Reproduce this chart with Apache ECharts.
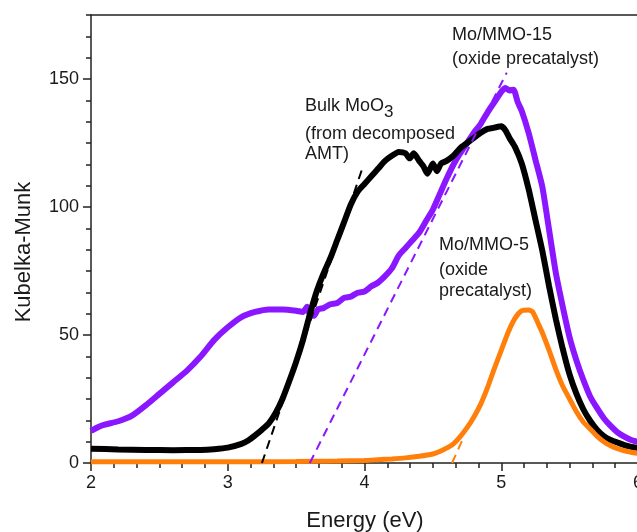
<!DOCTYPE html>
<html>
<head>
<meta charset="utf-8">
<script src="https://cdn.jsdelivr.net/npm/echarts@6/dist/echarts.min.js"></script>
<style>
html,body{margin:0;padding:0;background:#fff;}
#chart{width:637px;height:532px;}
</style>
</head>
<body>
<div id="chart"></div>
<script>
// ---- Data ----
const xTicks = [2, 3, 4, 5, 6];
const yTicks = [0, 50, 100, 150];

// Bulk MoO3 (from decomposed AMT)
const bulkX = [2.00,2.20,2.40,2.60,2.80,2.90,3.00,3.10,3.15,3.20,3.25,3.30,3.35,3.40,3.45,3.50,3.55,3.60,3.65,3.70,3.75,3.80,3.85,3.90,3.95,4.00,4.05,4.10,4.15,4.20,4.25,4.30,4.33,4.36,4.40,4.43,4.46,4.50,4.53,4.56,4.60,4.65,4.70,4.75,4.80,4.85,4.90,4.95,5.00,5.03,5.06,5.10,5.15,5.20,5.25,5.30,5.35,5.40,5.45,5.50,5.55,5.60,5.65,5.70,5.75,5.80,5.85,5.90,5.95,6.00];
const bulkY = [5.6,5.3,5.1,5.0,5.1,5.4,6.0,7.5,8.8,10.8,13.0,15.5,19.5,25,32,39.5,48,58,67,74,80,87,94,101,106,109,112,115,118,120,121.5,121,119,121,118,116,113,117,114,117,118,120,123,125,127,129,130.5,131,131.5,130,127,123.5,117,107,95,83,69,56,44.5,34.5,27,21,16.5,13,10.5,9,8,7,6.3,5.8];

// Mo/MMO-15 (oxide precatalyst)
const mmo15X = [2.00,2.05,2.10,2.20,2.30,2.40,2.50,2.60,2.70,2.80,2.90,3.00,3.10,3.20,3.30,3.40,3.50,3.55,3.58,3.60,3.63,3.66,3.70,3.75,3.80,3.85,3.90,3.95,4.00,4.05,4.10,4.15,4.20,4.25,4.30,4.35,4.40,4.45,4.50,4.55,4.60,4.65,4.70,4.75,4.80,4.85,4.90,4.95,5.00,5.03,5.06,5.09,5.12,5.15,5.20,5.25,5.30,5.35,5.40,5.45,5.50,5.55,5.60,5.65,5.70,5.75,5.80,5.85,5.90,5.95,6.00];
const mmo15Y = [12.5,14,15,16.3,18.5,22.5,27,31.5,36,41.5,48,53,57,59,60,60,59.5,59,61,58,57.5,60,60.5,62,62.5,64.5,65,66.5,67,69,70.5,73,76,81,84,87,90,94.5,99,105,111,116.5,121,125,129,132.5,137,141,145,146.5,145.5,145.8,141,137.5,129,118.5,108,91,74,61,49,40,32.5,26,21.5,17.5,14.5,12,10.3,9,8.2];

// Mo/MMO-5 (oxide precatalyst)
const mmo5X = [2.00,2.50,3.00,3.50,3.80,4.00,4.10,4.20,4.30,4.40,4.50,4.55,4.60,4.65,4.70,4.75,4.80,4.85,4.90,4.95,5.00,5.05,5.10,5.15,5.20,5.23,5.27,5.30,5.35,5.40,5.45,5.50,5.55,5.60,5.65,5.70,5.75,5.80,5.85,5.90,5.95,6.00];
const mmo5Y = [0.5,0.5,0.5,0.6,0.8,1.0,1.3,1.6,2.0,2.6,3.5,4.5,5.8,7.5,10.3,13.8,18,23,29.5,37,44,51,56.5,59.5,59.8,59,54.5,51,44,36.5,30,25,20,16,13.3,10.5,8.3,6.7,5.6,4.8,4.2,3.8];

// Tangent (band-edge) lines
const bulkTanX = [3.25, 3.99], bulkTanY = [0, 116];
const mmo15TanX = [3.60, 5.04], mmo15TanY = [0, 152.5];
const mmo5TanX = [4.64, 4.72], mmo5TanY = [0, 9.5];

const zip = (xs, ys) => xs.map((x, i) => [x, ys[i]]);

const FONT = "'Liberation Sans', Arial, Helvetica, sans-serif";
const TXT = '#1a1a1a';
const PURPLE = '#8a17ff';
const ORANGE = '#ff7f0a';
const BLACK = '#000000';

const chart = echarts.init(document.getElementById('chart'), null, {renderer: 'canvas'});

const axisLineStyle = {color: '#222', width: 1.5};

const option = {
  backgroundColor: '#fff',
  animation: false,
  grid: {left: 91, right: -1, top: 15, bottom: 69, containLabel: false, outerBoundsMode: 'none'},
  xAxis: [
    {
      type: 'value', min: 2, max: 6, interval: 1, position: 'bottom',
      axisLine: {show: true, onZero: false, lineStyle: axisLineStyle},
      axisTick: {show: true, length: 8, lineStyle: axisLineStyle},
      minorTick: {show: true, splitNumber: 6, length: 5, lineStyle: axisLineStyle},
      axisLabel: {fontSize: 18, color: TXT, fontFamily: FONT, margin: 11,
        customValues: xTicks},
      splitLine: {show: false}
    },
    {
      type: 'value', min: 2, max: 6, position: 'top',
      axisLine: {show: true, onZero: false, lineStyle: axisLineStyle},
      axisTick: {show: false}, axisLabel: {show: false}, splitLine: {show: false}
    }
  ],
  yAxis: [
    {
      type: 'value', min: 0, max: 175, interval: 50, position: 'left',
      axisLine: {show: true, onZero: false, lineStyle: axisLineStyle},
      axisTick: {show: true, length: 8, lineStyle: axisLineStyle, customValues: yTicks},
      axisLabel: {fontSize: 18, color: TXT, fontFamily: FONT, margin: 12, customValues: yTicks},
      splitLine: {show: false}
    },
    {
      type: 'value', min: 0, max: 175, interval: 50 / 6, position: 'left',
      axisLine: {show: false},
      axisTick: {show: true, length: 5, lineStyle: axisLineStyle},
      axisLabel: {show: false}, splitLine: {show: false}
    }
  ],
  series: [
    {
      name: 'Mo/MMO-15', type: 'line', data: zip(mmo15X, mmo15Y), showSymbol: false, smooth: 0.2,
      lineStyle: {color: PURPLE, width: 6}, itemStyle: {color: PURPLE}
    },
    {
      name: 'Bulk MoO3', type: 'line', data: zip(bulkX, bulkY), showSymbol: false, smooth: 0.2,
      lineStyle: {color: BLACK, width: 6}, itemStyle: {color: BLACK}
    },
    {
      name: 'Mo/MMO-5', type: 'line', data: zip(mmo5X, mmo5Y), showSymbol: false, smooth: 0.2,
      lineStyle: {color: ORANGE, width: 5}, itemStyle: {color: ORANGE}
    },
    {
      type: 'line', data: zip(bulkTanX, bulkTanY), showSymbol: false,
      lineStyle: {color: BLACK, width: 2, type: [9, 6]}
    },
    {
      type: 'line', data: zip(mmo15TanX, mmo15TanY), showSymbol: false,
      lineStyle: {color: PURPLE, width: 2, type: [9, 6]}
    },
    {
      type: 'line', data: zip(mmo5TanX, mmo5TanY), showSymbol: false,
      lineStyle: {color: ORANGE, width: 2, type: [9, 6]}
    }
  ],
  graphic: [
    {type: 'text', x: 365, y: 521, style: {text: 'Energy (eV)', fontSize: 22, fontFamily: FONT, fill: TXT, align: 'center', verticalAlign: 'middle'}},
    {type: 'text', x: 24, y: 252, rotation: Math.PI / 2, style: {text: 'Kubelka-Munk', fontSize: 22, fontFamily: FONT, fill: TXT, align: 'center', verticalAlign: 'middle'}},
    {type: 'text', x: 305, y: 106, style: {text: 'Bulk MoO{s|3}', fontSize: 18, fontFamily: FONT, fill: TXT, align: 'left', verticalAlign: 'middle',
      rich: {s: {fontSize: 17, fontFamily: FONT, fill: TXT, padding: [12, 0, 0, 0]}}}},
    {type: 'text', x: 305, y: 134, style: {text: '(from decomposed', fontSize: 18, fontFamily: FONT, fill: TXT, align: 'left', verticalAlign: 'middle'}},
    {type: 'text', x: 305, y: 154, style: {text: 'AMT)', fontSize: 18, fontFamily: FONT, fill: TXT, align: 'left', verticalAlign: 'middle'}},
    {type: 'text', x: 452, y: 35.5, style: {text: 'Mo/MMO-15', fontSize: 18, fontFamily: FONT, fill: TXT, align: 'left', verticalAlign: 'middle'}},
    {type: 'text', x: 452, y: 59, style: {text: '(oxide precatalyst)', fontSize: 18, fontFamily: FONT, fill: TXT, align: 'left', verticalAlign: 'middle'}},
    {type: 'text', x: 439, y: 245, style: {text: 'Mo/MMO-5', fontSize: 18, fontFamily: FONT, fill: TXT, align: 'left', verticalAlign: 'middle'}},
    {type: 'text', x: 439, y: 270, style: {text: '(oxide', fontSize: 18, fontFamily: FONT, fill: TXT, align: 'left', verticalAlign: 'middle'}},
    {type: 'text', x: 439, y: 291.5, style: {text: 'precatalyst)', fontSize: 18, fontFamily: FONT, fill: TXT, align: 'left', verticalAlign: 'middle'}}
  ]
};
chart.setOption(option);
</script>
</body>
</html>
